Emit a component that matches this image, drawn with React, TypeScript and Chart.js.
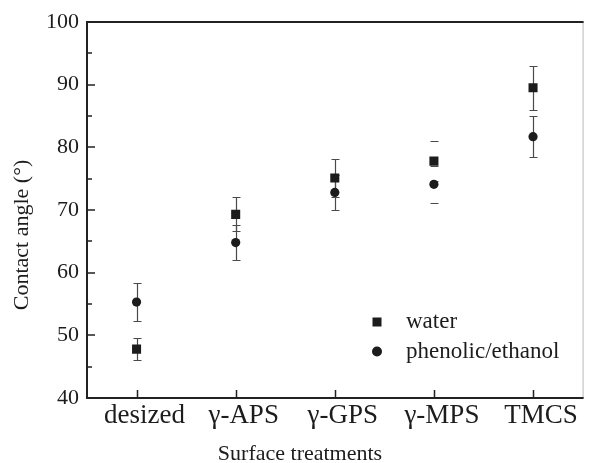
import React, { useEffect, useRef } from 'react';
import { Chart, registerables } from 'chart.js';

Chart.register(...registerables);

const categories = ['desized', 'γ-APS', 'γ-GPS', 'γ-MPS', 'TMCS'];
const waterValues = [47.8, 69.3, 75.1, 77.8, 89.5];
const waterErrors = [1.8, 2.7, 3.0, 3.2, 3.5];
const phenolicValues = [55.3, 64.8, 72.8, 74.1, 81.7];
const phenolicErrors = [3.0, 2.8, 2.8, 3.0, 3.3];
const stemVisible = [true, true, true, false, true];
const seriesLabels = ['water', 'phenolic/ethanol'];
const yMin = 40;
const yMax = 100;
const yStep = 10;
const yMinorStep = 5;
const xTitle = 'Surface treatments';
const yTitle = 'Contact angle (°)';

const FONT = '"Liberation Serif", "Times New Roman", serif';
const INK = '#1c1c1c';

const decorPlugin = {
  id: 'decor',
  beforeDatasetsDraw(chart: any) {
    const { ctx, scales } = chart;
    const x = scales.x;
    const y = scales.y;
    ctx.save();
    ctx.strokeStyle = '#4a4a4a';
    ctx.lineWidth = 1.2;
    chart.data.datasets.forEach((ds: any) => {
      ds.data.forEach((v: number, i: number) => {
        const e = ds.errors[i];
        const px = Math.round(x.getPixelForValue(i)) + 0.5;
        const top = Math.round(y.getPixelForValue(v + e)) + 0.5;
        const bot = Math.round(y.getPixelForValue(v - e)) + 0.5;
        ctx.beginPath();
        if (stemVisible[i]) {
          ctx.moveTo(px, top);
          ctx.lineTo(px, bot);
        }
        ctx.moveTo(px - 4, top);
        ctx.lineTo(px + 4, top);
        ctx.moveTo(px - 4, bot);
        ctx.lineTo(px + 4, bot);
        ctx.stroke();
      });
    });
    ctx.restore();
  },
  afterDraw(chart: any) {
    const { ctx, chartArea: ca, scales } = chart;
    const x = scales.x;
    const y = scales.y;
    ctx.save();
    // frame
    ctx.strokeStyle = '#bbb';
    ctx.lineWidth = 1;
    ctx.beginPath();
    ctx.moveTo(ca.right + 0.5, ca.top);
    ctx.lineTo(ca.right + 0.5, ca.bottom);
    ctx.stroke();
    ctx.strokeStyle = '#222';
    ctx.lineWidth = 2;
    ctx.beginPath();
    ctx.moveTo(ca.left - 1, ca.top);
    ctx.lineTo(ca.right + 1, ca.top);
    ctx.moveTo(ca.left, ca.top);
    ctx.lineTo(ca.left, ca.bottom + 1);
    ctx.moveTo(ca.left - 1, ca.bottom);
    ctx.lineTo(ca.right + 1, ca.bottom);
    ctx.stroke();
    // inward ticks
    ctx.lineWidth = 1.5;
    ctx.beginPath();
    for (let v = yMin + yMinorStep; v < yMax; v += yMinorStep) {
      const py = Math.round(y.getPixelForValue(v));
      const len = v % yStep === 0 ? 8 : 5;
      ctx.moveTo(ca.left, py);
      ctx.lineTo(ca.left + len, py);
    }
    categories.forEach((_, i) => {
      const px = Math.round(x.getPixelForValue(i)) + 0.5;
      ctx.moveTo(px, ca.bottom);
      ctx.lineTo(px, ca.bottom - 8);
    });
    ctx.stroke();

    // axis titles
    ctx.fillStyle = INK;
    ctx.font = `22px ${FONT}`;
    ctx.textAlign = 'center';
    ctx.textBaseline = 'alphabetic';
    ctx.fillText(xTitle, 300, 460);
    ctx.save();
    ctx.translate(28, 235);
    ctx.rotate(-Math.PI / 2);
    ctx.fillText(yTitle, 0, 0);
    ctx.restore();

    // legend
    const lx = 377;
    const ly = [322, 351.5];
    ctx.fillStyle = INK;
    ctx.fillRect(lx - 4.5, ly[0] - 4.5, 9, 9);
    ctx.beginPath();
    ctx.arc(lx, ly[1], 5, 0, Math.PI * 2);
    ctx.fill();
    ctx.font = `23px ${FONT}`;
    ctx.textAlign = 'left';
    ctx.textBaseline = 'middle';
    seriesLabels.forEach((t, i) => ctx.fillText(t, 406, ly[i]));
    ctx.restore();
  },
};

export default function App() {
  const ref = useRef<HTMLCanvasElement>(null);
  useEffect(() => {
    if (!ref.current) return;
    const chart = new Chart(ref.current, {
      type: 'line',
      data: {
        labels: categories,
        datasets: [
          {
            label: seriesLabels[0],
            data: waterValues,
            errors: waterErrors,
            showLine: false,
            pointStyle: 'rect',
            pointRadius: 6.4,
            pointBackgroundColor: INK,
            pointBorderColor: INK,
            pointBorderWidth: 0,
          } as any,
          {
            label: seriesLabels[1],
            data: phenolicValues,
            errors: phenolicErrors,
            showLine: false,
            pointStyle: 'circle',
            pointRadius: 4.6,
            pointBackgroundColor: INK,
            pointBorderColor: INK,
            pointBorderWidth: 0,
          } as any,
        ],
      },
      options: {
        animation: false,
        responsive: false,
        maintainAspectRatio: false,
        layout: { padding: { top: 22, right: 3, left: 0, bottom: 0 } },
        plugins: { legend: { display: false }, tooltip: { enabled: false } },
        scales: {
          x: {
            type: 'category',
            offset: true,
            grid: { display: false, drawTicks: false },
            border: { display: false },
            ticks: {
              color: INK,
              font: { family: FONT, size: 27 },
              padding: 2,
              labelOffset: 8,
              maxRotation: 0,
              autoSkip: false,
            },
            afterFit(s: any) {
              s.height = 65;
            },
          },
          y: {
            min: yMin,
            max: yMax,
            grid: { display: false, drawTicks: false },
            border: { display: false },
            ticks: {
              stepSize: yStep,
              color: INK,
              font: { family: FONT, size: 22 },
              padding: 8,
            },
            afterFit(s: any) {
              s.width = 87;
            },
          },
        },
      },
      plugins: [decorPlugin],
    } as any);
    return () => chart.destroy();
  }, []);
  return (
    <div style={{ position: 'fixed', left: 0, top: 0, width: 589, height: 463, background: '#fff' }}>
      <canvas ref={ref} width={589} height={463} style={{ width: 589, height: 463, display: 'block' }} />
    </div>
  );
}
